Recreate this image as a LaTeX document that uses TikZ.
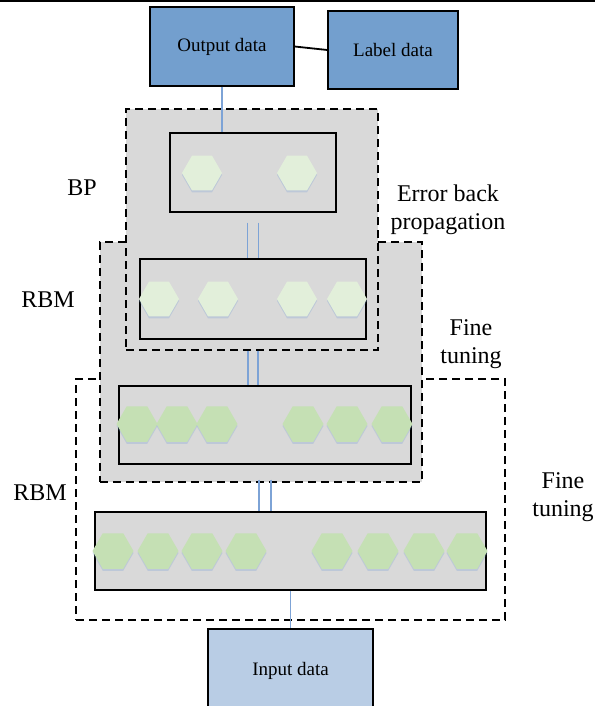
\documentclass[tikz,border=0pt]{standalone}
\usepackage{fontspec}
\setmainfont{Liberation Serif}
\newfontfamily\timesface{Liberation Serif}
\usepackage{tikz}
\usetikzlibrary{shapes.geometric,shadows,calc}
\definecolor{outblue}{HTML}{739FCE}
\definecolor{inblue}{HTML}{B9CDE5}
\definecolor{layergray}{HTML}{D9D9D9}
\definecolor{palegreen}{HTML}{E2EFDA}
\definecolor{midgreen}{HTML}{C5E0B4}
\definecolor{linkblue}{HTML}{7DA3D6}

\begin{document}
\begin{tikzpicture}[x=1pt,y=-1pt,
  databox/.style={draw=black,line width=1.3pt,inner sep=0pt,font=\timesface\fontsize{19}{23}\selectfont},
  layerbox/.style={draw=black,line width=1.3pt,fill=layergray,inner sep=0pt},
  region/.style={draw=black,dash pattern=on 8pt off 5pt,line width=1.3pt,fill=layergray,inner sep=0pt},
  unit/.style={regular polygon,regular polygon sides=6,minimum size=40pt,inner sep=0pt,fill=#1,
    drop shadow={shadow xshift=0pt,shadow yshift=-2pt,fill=linkblue,opacity=0.3}},
  link/.style={linkblue,line width=1.4pt},
  tag/.style={align=center,inner sep=0pt,font=\timesface\fontsize{24}{28}\selectfont}]
\useasboundingbox (0,0) rectangle (595,706);
\clip (0,0) rectangle (595,706);
\draw[line width=2pt] (0,1.5) -- (595,1.5);

\node[region,fill=white,minimum width=429pt,minimum height=241pt] (ftreg) at (290.5,499.5) {};
\node[region,minimum width=322pt,minimum height=240pt] (rbmreg) at (261,362) {};
\node[layerbox,minimum width=292pt,minimum height=78pt] (box3) at (265,425) {};
\foreach \x [count=\i] in {137,177,217,303,347,392}
  \node[unit=midgreen,minimum size=41pt] (h3-\i) at (\x,424) {};

\node[region,minimum width=252pt,minimum height=241pt] (bpreg) at (252,229.5) {};
\node[layerbox,minimum width=166pt,minimum height=79pt] (box1) at (253,172.5) {};
\foreach \x [count=\i] in {202,297}
  \node[unit=palegreen] (h1-\i) at (\x,173) {};
\node[layerbox,minimum width=226pt,minimum height=80pt] (box2) at (253,299) {};
\foreach \x [count=\i] in {159,218,297,347}
  \node[unit=palegreen] (h2-\i) at (\x,299) {};

\node[layerbox,minimum width=391pt,minimum height=78pt] (box4) at (290.5,551) {};
\foreach \x [count=\i] in {113,158,202,246,332,378,424,467}
  \node[unit=midgreen,minimum size=41pt] (h4-\i) at (\x,551) {};

\node[databox,fill=outblue,minimum width=144pt,minimum height=79pt] (out) at (222,46.5) {Output data};
\node[databox,fill=outblue,minimum width=130pt,minimum height=78pt] (label) at (393,50) {Label data};
\node[databox,fill=inblue,minimum width=165pt,minimum height=83pt] (in) at (290.5,670.5) {Input data};

\draw[line width=1.8pt] (out.east) -- (label.west);
\draw[link] (out.south) -- (out.south |- box1.north);
\foreach \d in {-5.5,5.5}
  \draw[link] ($(box1.south)+(\d,10)$) -- ($(box1.south |- box2.north)+(\d,0)$);
\foreach \d in {-5,5}
  \draw[link] ($(bpreg.south)+(\d+1,0)$) -- ($(bpreg.south |- box3.north)+(\d+1,0)$);
\foreach \d in {-6,6}
  \draw[link] ($(box3.south)+(\d,15)$) -- ($(box3.south |- box4.north)+(\d,0)$);
\draw[link] (box4.south) -- (in.north);

\node[tag] (bp) at (82,188) {BP};
\node[tag] (ebp) at (448,210) {Error back\\propagation};
\node[tag] (rbm1) at (48,300) {RBM};
\node[tag] (ft1) at (471,344) {Fine\\tuning};
\node[tag] (rbm2) at (40,493) {RBM};
\node[tag] (ft2) at (563,497) {Fine\\tuning};
\end{tikzpicture}
\end{document}
